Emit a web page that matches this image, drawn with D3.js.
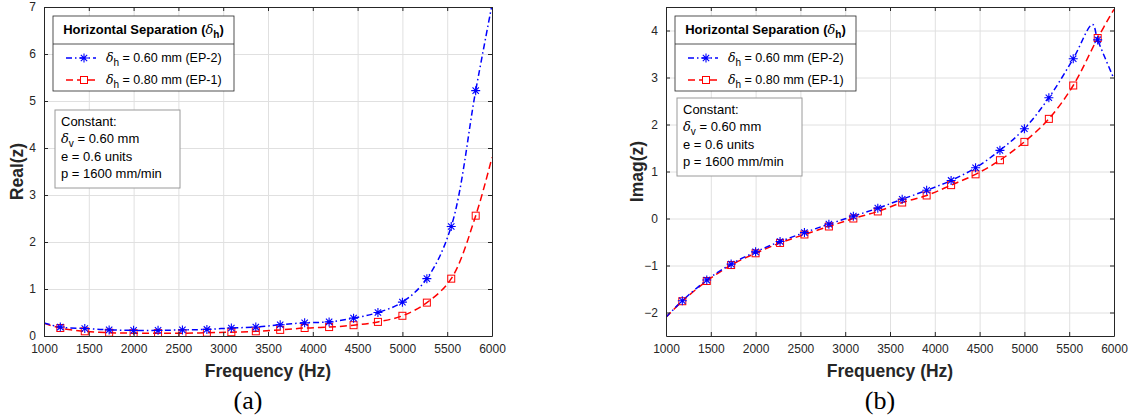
<!DOCTYPE html>
<html>
<head>
<meta charset="utf-8">
<script src="https://cdn.jsdelivr.net/npm/d3@7"></script>
<style>
  body { margin: 0; background: #fff; }
  svg { display: block; font-family: "Liberation Sans", Arial, Helvetica, sans-serif; }
</style>
</head>
<body>
<svg id="chart" width="1133" height="419"></svg>
<script>
// Sweep frequencies (Hz); markers sit on every sample except the two ends
const freqHz = [1000, 1182, 1455, 1727, 2000, 2273, 2545, 2818, 3091, 3364, 3636,
                3909, 4182, 4455, 4727, 5000, 5273, 5545, 5818, 6000];

// Real part of impedance
const realEP2 = [0.28, 0.19, 0.16, 0.13, 0.12, 0.12, 0.13, 0.14, 0.17, 0.19, 0.24,
                 0.28, 0.30, 0.38, 0.50, 0.72, 1.22, 2.33, 5.22, 7.05];
const realEP1 = [0.27, 0.17, 0.10, 0.07, 0.06, 0.06, 0.06, 0.07, 0.08, 0.10, 0.13,
                 0.17, 0.19, 0.23, 0.30, 0.43, 0.71, 1.22, 2.56, 3.80];

// Imaginary part of impedance
const imagEP2 = [-2.10, -1.75, -1.31, -0.97, -0.71, -0.49, -0.30, -0.12, 0.05, 0.22, 0.41,
                 0.60, 0.81, 1.08, 1.45, 1.91, 2.57, 3.40, 3.80, 2.97];
const imagEP1 = [-2.10, -1.76, -1.33, -0.99, -0.74, -0.52, -0.34, -0.17, 0.00, 0.15, 0.34,
                 0.49, 0.71, 0.94, 1.24, 1.63, 2.12, 2.83, 3.84, 4.45];
// resonance peak of EP-2 between the last two markers
const imagEP2PeakHz = 5760;
const imagEP2Peak = 4.13;

const xTicks = [1000, 1500, 2000, 2500, 3000, 3500, 4000, 4500, 5000, 5500, 6000];
const realTicks = [0, 1, 2, 3, 4, 5, 6, 7];
const imagTicks = [-2, -1, 0, 1, 2, 3, 4];

const seriesLabels = ["0.60 mm (EP-2)", "0.80 mm (EP-1)"];
const constantLines = ["Constant:", "v = 0.60 mm", "e = 0.6 units", "p = 1600 mm/min"];

const svg = d3.select("#chart");
const INK = "#262626";
const BLUE = "#0000ff", RED = "#ff0000";
const plotTop = 7, plotBottom = 336;

function pts(xs, ys) { return xs.map((f, i) => ({ f, v: ys[i] })); }

function asterisk(r) {
  const d = r * Math.SQRT1_2;
  return `M${-r},0L${r},0M0,${-r}L0,${r}M${-d},${-d}L${d},${d}M${-d},${d}L${d},${-d}`;
}

function drawPanel(cfg) {
  const g = svg.append("g");
  const x = d3.scaleLinear().domain([1000, 6000]).range([cfg.left, cfg.right]);
  const y = d3.scaleLinear().domain(cfg.yDomain).range([plotBottom, plotTop]);
  const w = cfg.right - cfg.left, h = plotBottom - plotTop;

  // grid
  g.append("g").attr("transform", `translate(0,${plotBottom})`)
    .call(d3.axisBottom(x).tickValues(xTicks).tickSize(-h).tickFormat(""))
    .call(a => { a.select(".domain").remove(); a.selectAll("line").attr("stroke", "#e0e0e0"); });
  g.append("g").attr("transform", `translate(${cfg.left},0)`)
    .call(d3.axisLeft(y).tickValues(cfg.yTicks).tickSize(-w).tickFormat(""))
    .call(a => { a.select(".domain").remove(); a.selectAll("line").attr("stroke", "#e0e0e0"); });

  // clip
  const cid = "clip-" + cfg.id;
  svg.append("defs").append("clipPath").attr("id", cid)
    .append("rect").attr("x", cfg.left).attr("y", plotTop).attr("width", w).attr("height", h);

  const line = d3.line().x(d => x(d.f)).y(d => y(d.v)).curve(d3.curveCatmullRom.alpha(0.5));
  const plot = g.append("g").attr("clip-path", `url(#${cid})`);

  // red dashed series
  plot.append("path").datum(cfg.red).attr("d", line)
    .attr("fill", "none").attr("stroke", RED).attr("stroke-width", 1.5)
    .attr("stroke-dasharray", "7,4");
  // blue dash-dot series
  plot.append("path").datum(cfg.blue).attr("d", line)
    .attr("fill", "none").attr("stroke", BLUE).attr("stroke-width", 1.5)
    .attr("stroke-dasharray", "6,3,1.5,3");

  plot.selectAll(".sq").data(cfg.redMarks).join("rect")
    .attr("x", d => x(d.f) - 3.5).attr("y", d => y(d.v) - 3.5)
    .attr("width", 7).attr("height", 7)
    .attr("fill", "none").attr("stroke", RED).attr("stroke-width", 1);
  plot.selectAll(".ast").data(cfg.blueMarks).join("path")
    .attr("transform", d => `translate(${x(d.f)},${y(d.v)})`)
    .attr("d", asterisk(4.5))
    .attr("fill", "none").attr("stroke", BLUE).attr("stroke-width", 1.1);

  // box + ticks on all sides, pointing inward
  const tickStyle = a => { a.selectAll("line").attr("stroke", INK); a.select(".domain").attr("stroke", INK); };
  const labelStyle = a => a.selectAll("text").attr("fill", INK).attr("font-size", 12)
    .attr("font-family", "Liberation Sans, Arial, sans-serif");
  g.append("g").attr("transform", `translate(0,${plotBottom})`)
    .call(d3.axisBottom(x).tickValues(xTicks).tickSizeInner(-4).tickSizeOuter(0).tickPadding(8).tickFormat(d3.format("d")))
    .call(tickStyle).call(labelStyle);
  g.append("g").attr("transform", `translate(0,${plotTop})`)
    .call(d3.axisTop(x).tickValues(xTicks).tickSizeInner(-4).tickSizeOuter(0).tickFormat(""))
    .call(tickStyle);
  g.append("g").attr("transform", `translate(${cfg.left},0)`)
    .call(d3.axisLeft(y).tickValues(cfg.yTicks).tickSizeInner(-4).tickSizeOuter(0).tickPadding(8).tickFormat(d3.format("d")))
    .call(tickStyle).call(labelStyle);
  g.append("g").attr("transform", `translate(${cfg.right},0)`)
    .call(d3.axisRight(y).tickValues(cfg.yTicks).tickSizeInner(-4).tickSizeOuter(0).tickFormat(""))
    .call(tickStyle);

  // axis titles
  g.append("text").attr("x", (cfg.left + cfg.right) / 2).attr("y", 377)
    .attr("text-anchor", "middle").attr("font-weight", "bold").attr("font-size", 17.5).attr("fill", INK)
    .text("Frequency (Hz)");
  g.append("text").attr("transform", `translate(${cfg.ylabX},${(plotTop + plotBottom) / 2}) rotate(-90)`)
    .attr("text-anchor", "middle").attr("font-weight", "bold").attr("font-size", 17.5).attr("fill", INK)
    .text(cfg.ylabel);
  g.append("text").attr("x", cfg.captionX).attr("y", 409)
    .attr("text-anchor", "middle").attr("font-family", "Liberation Serif, Times New Roman, serif")
    .attr("font-size", 26).attr("fill", "#000").text(cfg.caption);

  // legend
  const L = g.append("g").attr("transform", `translate(${cfg.legX},16)`);
  const lw = 181, lh = 75;
  L.append("rect").attr("width", lw).attr("height", lh).attr("fill", "#fff").attr("stroke", INK).attr("stroke-width", 0.8);
  L.append("line").attr("x1", 0).attr("x2", lw).attr("y1", 28).attr("y2", 28).attr("stroke", INK).attr("stroke-width", 0.8);
  const t = L.append("text").attr("x", lw / 2).attr("y", 18).attr("text-anchor", "middle")
    .attr("font-size", 13).attr("font-weight", "bold").attr("fill", "#000");
  t.append("tspan").text("Horizontal Separation (");
  t.append("tspan").attr("font-style", "italic").attr("font-weight", "normal")
    .attr("font-family", "DejaVu Serif, serif").text("δ");
  t.append("tspan").attr("font-size", 10).attr("dy", 4).text("h");
  t.append("tspan").attr("dy", -4).text(")");

  const rows = [{ color: BLUE, dash: "6,3,1.5,3", mark: "ast" }, { color: RED, dash: "7,4", mark: "sq" }];
  rows.forEach((r, i) => {
    const ry = 42 + i * 22;
    L.append("line").attr("x1", 13).attr("x2", 43).attr("y1", ry).attr("y2", ry)
      .attr("stroke", r.color).attr("stroke-width", 1.5).attr("stroke-dasharray", r.dash);
    if (r.mark === "ast") {
      L.append("path").attr("transform", `translate(31,${ry})`).attr("d", asterisk(4.5))
        .attr("fill", "none").attr("stroke", r.color).attr("stroke-width", 1.1);
    } else {
      L.append("rect").attr("x", 27.5).attr("y", ry - 3.5).attr("width", 7).attr("height", 7)
        .attr("fill", "#fff").attr("stroke", r.color).attr("stroke-width", 1);
    }
    const tx = L.append("text").attr("x", 53).attr("y", ry + 4).attr("font-size", 12.5).attr("fill", "#000");
    tx.append("tspan").attr("font-style", "italic").attr("font-family", "DejaVu Serif, serif").text("δ");
    tx.append("tspan").attr("font-size", 10).attr("dy", 4).text("h");
    tx.append("tspan").attr("dy", -4).text(" = " + seriesLabels[i]);
  });

  // constant-parameter note
  const C = g.append("g").attr("transform", `translate(${cfg.noteX},${cfg.noteY})`);
  C.append("rect").attr("width", 125).attr("height", 78).attr("fill", "#fff")
    .attr("stroke", "#9a9a9a").attr("stroke-width", 1);
  constantLines.forEach((s, i) => {
    const tx = C.append("text").attr("x", 6).attr("y", 16 + i * 17.3).attr("font-size", 13).attr("fill", "#000");
    if (i === 1) {
      tx.append("tspan").attr("font-style", "italic").attr("font-family", "DejaVu Serif, serif").text("δ");
      tx.append("tspan").attr("font-size", 10).attr("dy", 4).text("v");
      tx.append("tspan").attr("dy", -4).text(s.slice(1));
    } else {
      tx.text(s);
    }
  });
}

const inner = a => a.slice(1, -1);
const realBlue = pts(freqHz, realEP2), realRed = pts(freqHz, realEP1);
const imagBlueMarks = pts(freqHz, imagEP2);
const imagBlue = imagBlueMarks.slice();
imagBlue.splice(freqHz.length - 2, 0, { f: imagEP2PeakHz, v: imagEP2Peak });
const imagRed = pts(freqHz, imagEP1);

drawPanel({
  id: "real", left: 44, right: 492, yDomain: [0, 7], yTicks: realTicks,
  blue: realBlue, red: realRed, blueMarks: inner(realBlue), redMarks: inner(realRed),
  ylabel: "Real(z)", ylabX: 23, caption: "(a)", captionX: 248,
  legX: 53, noteX: 55, noteY: 110
});
drawPanel({
  id: "imag", left: 666, right: 1114, yDomain: [-2.5, 4.5], yTicks: imagTicks,
  blue: imagBlue, red: imagRed, blueMarks: inner(imagBlueMarks), redMarks: inner(imagRed),
  ylabel: "Imag(z)", ylabX: 643, caption: "(b)", captionX: 880,
  legX: 675, noteX: 677, noteY: 98
});
</script>
</body>
</html>
